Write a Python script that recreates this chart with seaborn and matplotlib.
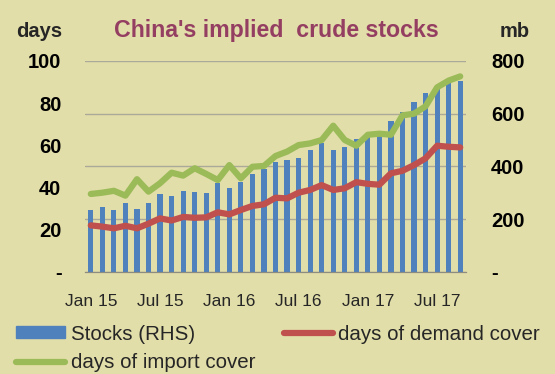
import numpy as np
import pandas as pd
import matplotlib.pyplot as plt
import seaborn as sns
from matplotlib.patches import Patch
from matplotlib.lines import Line2D

# monthly data, Jan 2015 - Sep 2017
months = list(pd.period_range('2015-01', periods=33, freq='M').strftime('%b %y'))
stocks_mb = [235, 247, 234, 262, 238, 262, 294, 289, 306, 301, 298, 335, 316, 342, 370, 389, 416,
             424, 433, 462, 487, 462, 474, 504, 513, 532, 574, 605, 646, 680, 694, 721, 725]
demand_cover = [22.0, 21.4, 20.6, 21.8, 20.6, 22.8, 25.3, 24.3, 26.0, 25.6, 25.8, 28.2, 27.2, 29.3,
                31.2, 32.0, 35.1, 34.8, 37.5, 38.8, 41.1, 38.8, 39.6, 42.5, 41.7, 41.3, 46.7, 47.9,
                50.6, 53.8, 59.8, 59.3, 59.0]
import_cover = [36.9, 37.5, 38.4, 36.1, 43.9, 38.0, 42.0, 47.0, 45.6, 49.1, 46.4, 43.5, 50.6, 44.3,
                49.8, 50.2, 54.9, 57.0, 60.1, 60.9, 62.5, 69.3, 62.5, 59.8, 65.0, 65.5, 65.0, 74.2,
                75.0, 78.5, 87.5, 90.7, 92.7]
tick_labels = ['Jan 15', 'Jul 15', 'Jan 16', 'Jul 16', 'Jan 17', 'Jul 17']
days_ticks = [0, 20, 40, 60, 80, 100]
mb_ticks = [0, 200, 400, 600, 800]

bg = '#E2DEA9'
blue, red, green = '#4F81BD', '#C0504D', '#9BBB59'

sns.set_style('white')
plt.rcParams['font.family'] = ['Liberation Sans', 'DejaVu Sans']

fig = plt.figure(figsize=(5.55, 3.74), dpi=100, facecolor=bg)
ax = fig.add_axes([0.1532, 0.2735, 0.6864, 0.5634])
ax.set_facecolor(bg)

# bars on the main axes (mb, right side), lines on the twin (days, left side)
sns.barplot(x=months, y=stocks_mb, ax=ax, color=blue, saturation=1, width=0.45, linewidth=0)
ax.set_ylim(0, 800)
ax.set_xlim(-0.5, len(months) - 0.5)
ax.grid(axis='y', color='#ABA999', linewidth=1)
ax.set_axisbelow(True)

ax2 = ax.twinx()
x = np.arange(len(months))
sns.lineplot(x=x, y=import_cover, ax=ax2, color=green, linewidth=4.5, legend=False)
sns.lineplot(x=x, y=demand_cover, ax=ax2, color=red, linewidth=4.5, legend=False)
ax2.set_ylim(0, 100)

# twinx puts the main axis ticks on the left, so swap sides afterwards
ax.yaxis.tick_right()
ax2.yaxis.tick_left()
ax.set_yticks(mb_ticks)
ax.set_yticklabels(['-'] + [str(t) for t in mb_ticks[1:]], fontsize=14.5, fontweight='bold')
ax2.set_yticks(days_ticks)
ax2.set_yticklabels(['-'] + [str(t) for t in days_ticks[1:]], fontsize=14.5, fontweight='bold')

for a in (ax, ax2):
    for s in ('left', 'right', 'top'):
        a.spines[s].set_visible(False)
    a.spines['bottom'].set_color('#8E8C80')
    a.tick_params(axis='y', length=0, colors='black')
ax.tick_params(axis='y', pad=18)
ax2.tick_params(axis='y', pad=17)

# labels under bars, tick marks between categories
ax.set_xticks(np.arange(0, 31, 6))
ax.set_xticklabels(tick_labels, fontsize=12.5)
ax.set_xticks(np.arange(-0.5, 30, 6), minor=True)
ax.tick_params(axis='x', which='major', length=0, pad=16)
ax.tick_params(axis='x', which='minor', length=4, width=1, color='#8E8C80', direction='out')
ax.set_xlabel('')
ax2.set_xlabel('')
ax2.set_ylabel('')

fig.text(0.205, 0.902, "China's implied  crude stocks", fontsize=16.7, fontweight='bold',
         color='#943E62', ha='left', va='baseline')
fig.text(0.070, 0.902, 'days', fontsize=14.5, fontweight='bold', ha='center', va='baseline')
fig.text(0.928, 0.902, 'mb', fontsize=14.5, fontweight='bold', ha='center', va='baseline')

handles = [Patch(color=blue), Line2D([], [], color=green, linewidth=4.5),
           Line2D([], [], color=red, linewidth=4.5)]
labels = ['Stocks (RHS)', 'days of import cover', 'days of demand cover']
fig.legend(handles, labels, ncol=2, loc='upper left', bbox_to_anchor=(0.029, 0.132),
           frameon=False, fontsize=14.8, handlelength=2.4, handletextpad=0.25,
           columnspacing=1.4, labelspacing=0.47, borderaxespad=0, borderpad=0, handleheight=0.5)

fig.savefig('out.png', dpi=100, facecolor=bg)
